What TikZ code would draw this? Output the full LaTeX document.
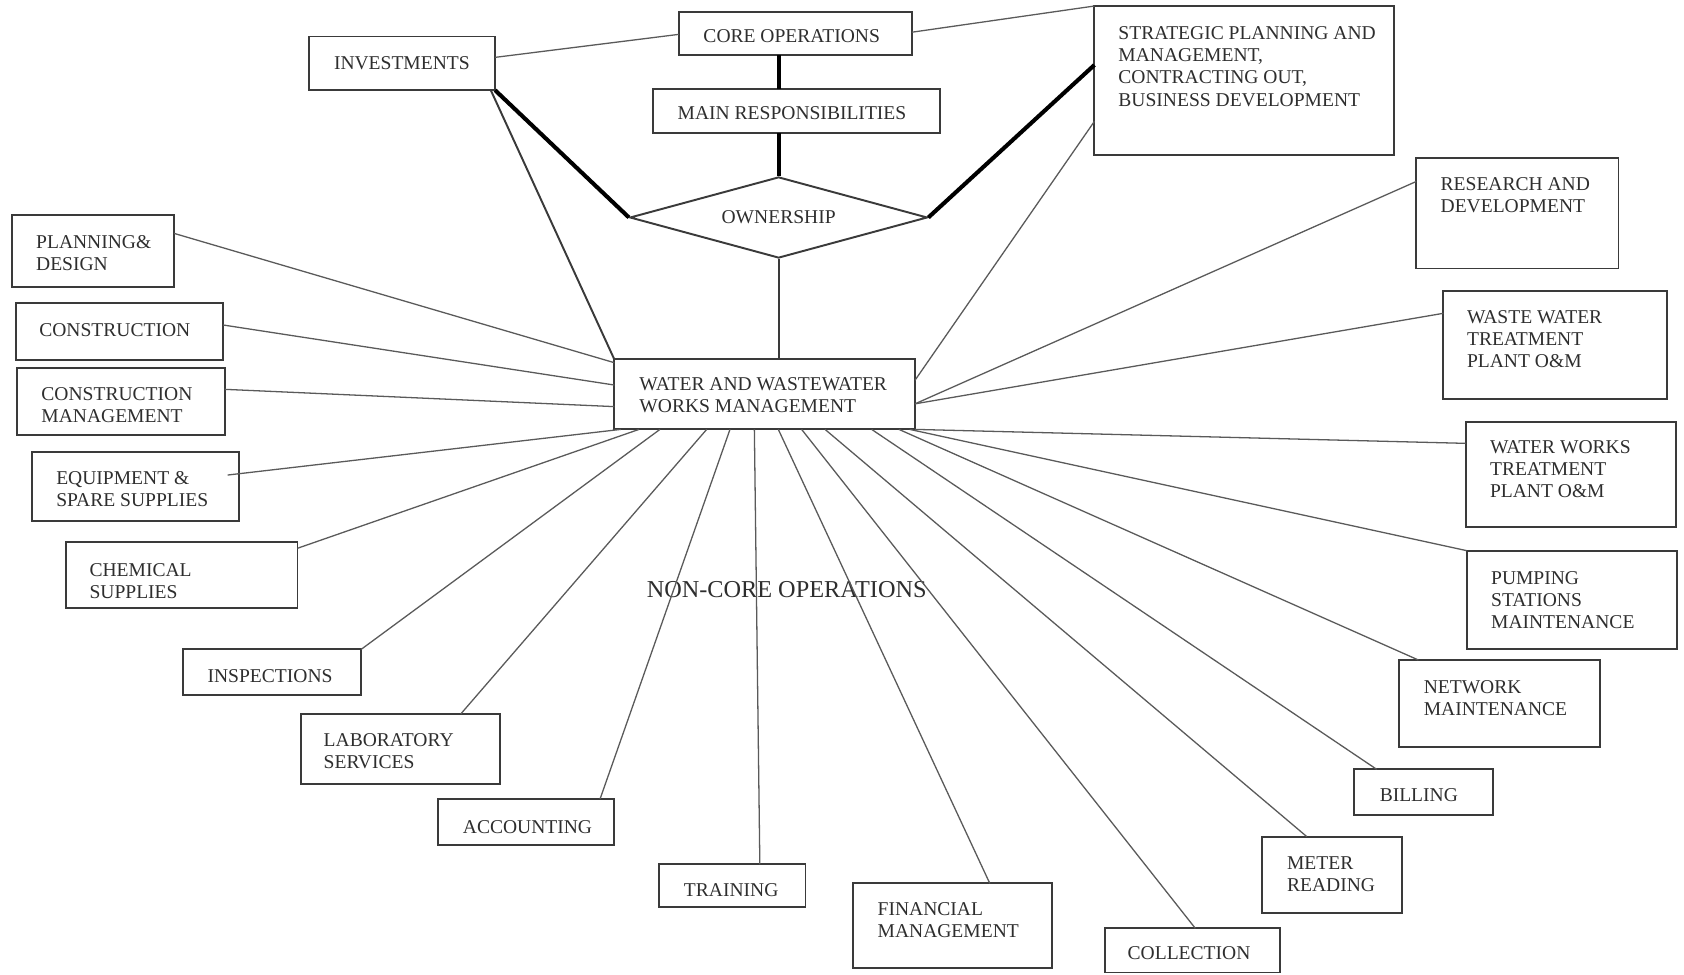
\documentclass[tikz,border=0pt]{standalone}
\usepackage{fontspec}
\setmainfont{Liberation Serif}
\usetikzlibrary{shapes.geometric,calc}
\definecolor{ink}{HTML}{2E2E2E}
\definecolor{boxc}{HTML}{3A3A3A}
\definecolor{thinc}{HTML}{5A5A5A}
\newcommand\bx[5]{\node[bx, anchor=north west, minimum width={(#4-#2)*0.5pt}, minimum height={(#5-#3)*0.5pt}] (#1) at (#2,#3) {};}
\begin{document}
\begin{tikzpicture}[x=0.5pt,y=-0.5pt,
  bx/.style={draw=boxc, line width=0.9pt, inner sep=0pt, outer sep=0pt},
  lbl/.style={text=ink, font=\fontsize{9.1}{10.3}\selectfont, inner sep=0pt, align=left, anchor=west},
  conn/.style={draw=thinc, line width=0.6pt},
  heavy/.style={draw=black, line width=1.9pt},
  midline/.style={draw=boxc, line width=0.9pt}]
\useasboundingbox (0,0) rectangle (1568,907);
\fill[white] (0,0) rectangle (1568,907);

% boxes
\bx{inv}{288}{34}{461}{84}
\bx{core}{632}{11}{849}{51}
\bx{main}{608}{83}{875}{124}
\bx{strat}{1019}{5.6}{1298}{144}
\bx{water}{572}{334.6}{852}{399.8}
\bx{planning}{11.6}{200.2}{162.1}{267.5}
\bx{constr}{14.5}{281.8}{207.8}{335.2}
\bx{cmgmt}{15.8}{342.3}{209.1}{405}
\bx{equip}{29.9}{420.5}{222.4}{485.1}
\bx{chem}{61.5}{504.3}{277}{566.4}
\bx{insp}{170}{604.6}{336.3}{647.1}
\bx{lab}{280.2}{664.8}{465.2}{730.3}
\bx{acct}{407.8}{744}{571.7}{786.8}
\bx{train}{614}{804.8}{750}{844.2}
\bx{fin}{794}{822.5}{979.8}{901.6}
\bx{coll}{1028.5}{864.4}{1191.8}{905.5}
\bx{meter}{1175}{779}{1305}{849.8}
\bx{billing}{1260.7}{716.3}{1390.4}{758.8}
\bx{network}{1302.6}{614.5}{1489.8}{695.2}
\bx{pumping}{1365.6}{512.7}{1561.2}{604.6}
\bx{wworks}{1364.7}{392.6}{1560.2}{490.4}
\bx{waste}{1344}{270.6}{1552.4}{371.8}
\bx{research}{1318.6}{147}{1507}{250}

\node[diamond, shape aspect=3.67, draw=boxc, line width=0.9pt, inner sep=0pt,
  minimum width=138.5pt, minimum height=37.75pt, text=ink,
  font=\fontsize{9.1}{10.3}\selectfont] (own) at (725,202.5) {OWNERSHIP};

% labels
\node[lbl] (t-inv) at (310.6,59) {INVESTMENTS};
\node[lbl] (t-core) at (654.6,34) {CORE OPERATIONS};
\node[lbl] (t-main) at (630.6,105) {MAIN RESPONSIBILITIES};
\node[lbl] (t-strat) at (1041,62) {STRATEGIC PLANNING AND\\MANAGEMENT,\\CONTRACTING OUT,\\BUSINESS DEVELOPMENT};
\node[lbl] (t-water) at (595,368.2) {WATER AND WASTEWATER\\WORKS MANAGEMENT};
\node[lbl] (t-planning) at (33.3,235.4) {PLANNING\&\\DESIGN};
\node[lbl] (t-constr) at (36.2,307.3) {CONSTRUCTION};
\node[lbl] (t-cmgmt) at (38.2,377.4) {CONSTRUCTION\\MANAGEMENT};
\node[lbl] (t-equip) at (52,455.5) {EQUIPMENT \&\\SPARE SUPPLIES};
\node[lbl] (t-chem) at (83,540.9) {CHEMICAL\\SUPPLIES};
\node[lbl] (t-insp) at (192.9,629.4) {INSPECTIONS};
\node[lbl] (t-lab) at (301,699.1) {LABORATORY\\SERVICES};
\node[lbl] (t-acct) at (430.6,769.7) {ACCOUNTING};
\node[lbl] (t-train) at (636.4,828.7) {TRAINING};
\node[lbl] (t-fin) at (816.8,856.4) {FINANCIAL\\MANAGEMENT};
\node[lbl] (t-coll) at (1049.6,887.6) {COLLECTION};
\node[lbl] (t-meter) at (1198,814) {METER\\READING};
\node[lbl] (t-billing) at (1284.3,740.2) {BILLING};
\node[lbl] (t-network) at (1325.3,649.8) {NETWORK\\MAINTENANCE};
\node[lbl] (t-pumping) at (1388,558.5) {PUMPING\\STATIONS\\MAINTENANCE};
\node[lbl] (t-wworks) at (1387,436.5) {WATER WORKS\\TREATMENT\\PLANT O\&M};
\node[lbl] (t-waste) at (1365.6,315.8) {WASTE WATER\\TREATMENT\\PLANT O\&M};
\node[lbl] (t-research) at (1341,181.5) {RESEARCH AND\\DEVELOPMENT};
\node[text=ink, font=\fontsize{11.3}{13}\selectfont, inner sep=0pt] (noncore) at (732.5,549.4) {NON-CORE OPERATIONS};

% heavy core links
\draw[heavy] (inv.south east) -- (own.west);
\draw[heavy] (own.east) -- (strat.west |- 0,60.5);
\draw[heavy] (core.south -| own.north) -- (main.north -| own.north);
\draw[heavy] (main.south -| own.north) -- (own.north);
\draw[midline] (own.south) -- (water.north -| own.south);
\draw[midline] (inv.south -| 457,0) -- (water.north west);

% thin links
\draw[conn] (inv.east |- 0,53.4) -- (core.west |- 0,32);
\draw[conn] (core.east |- 0,30) -- (strat.north west);
\draw[conn] (strat.west |- 0,113) -- (water.east |- 0,354);
\draw[conn] (research.west |- 0,169) -- (water.east |- 0,376);
\draw[conn] (waste.west |- 0,291.7) -- (water.east |- 0,376);
\draw[conn] (wworks.west |- 0,412.8) -- (water.south east);
\draw[conn] (pumping.north west) -- (water.south -| 847,0);
\draw[conn] (network.north -| 1320.6,0) -- (water.south -| 837,0);
\draw[conn] (billing.north -| 1281.8,0) -- (water.south -| 811.6,0);
\draw[conn] (meter.north -| 1216.8,0) -- (water.south -| 768.2,0);
\draw[conn] (coll.north -| 1113,0) -- (water.south -| 746.4,0);
\draw[conn] (fin.north -| 921.6,0) -- (water.south -| 724.7,0);
\draw[conn] (train.north -| 707.5,0) -- (water.south -| 702.4,0);
\draw[conn] (acct.north -| 558.7,0) -- (water.south -| 679.7,0);
\draw[conn] (lab.north -| 429,0) -- (water.south -| 658,0);
\draw[conn] (insp.north east) -- (water.south -| 614.5,0);
\draw[conn] (chem.east |- 0,510.5) -- (water.south -| 595,0);
\draw[conn] ([shift={(-10.4,21.8)}]equip.north east) -- (water.south -| 578,0);
\draw[conn] (cmgmt.east |- 0,362.5) -- (water.west |- 0,378.6);
\draw[conn] (constr.east |- 0,302.6) -- (water.west |- 0,358.5);
\draw[conn] (planning.east |- 0,217.3) -- (water.west |- 0,337.7);
\end{tikzpicture}
\end{document}
